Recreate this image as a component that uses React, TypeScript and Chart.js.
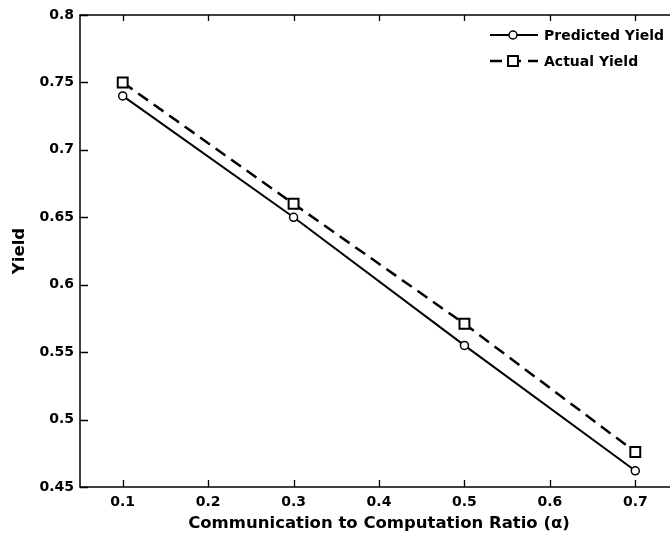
import { useEffect, useRef } from 'react';
import { Chart, registerables } from 'chart.js';

Chart.register(...registerables);

const ALPHA = [0.1, 0.3, 0.5, 0.7];
const PREDICTED = [0.74, 0.65, 0.555, 0.462];
const ACTUAL = [0.75, 0.66, 0.571, 0.476];
const X_TICKS = [0.1, 0.2, 0.3, 0.4, 0.5, 0.6, 0.7];
const Y_TICKS = [0.45, 0.5, 0.55, 0.6, 0.65, 0.7, 0.75, 0.8];
const SERIES = ['Predicted Yield', 'Actual Yield'];
const X_TITLE = 'Communication to Computation Ratio (\u03b1)';
const Y_TITLE = 'Yield';

const FONT = 'DejaVu Sans';

const framePlugin = {
  id: 'matlabFrame',
  afterDatasetsDraw(chart: any) {
    const { ctx, chartArea: a, scales } = chart;
    const xs = scales.x;
    const ys = scales.y;
    ctx.save();
    ctx.strokeStyle = '#000';
    ctx.lineWidth = 1.5;
    ctx.setLineDash([]);
    ctx.beginPath();
    ctx.moveTo(a.right, a.top);
    ctx.lineTo(a.left, a.top);
    ctx.lineTo(a.left, a.bottom);
    ctx.lineTo(a.right, a.bottom);
    ctx.stroke();
    ctx.lineWidth = 1.3;
    ctx.beginPath();
    xs.ticks.forEach((t: any) => {
      const px = Math.round(xs.getPixelForValue(t.value)) + 0.5;
      ctx.moveTo(px, a.bottom);
      ctx.lineTo(px, a.bottom - 7);
      ctx.moveTo(px, a.top);
      ctx.lineTo(px, a.top + 6);
    });
    ys.ticks.forEach((t: any) => {
      const py = Math.round(ys.getPixelForValue(t.value)) + 0.5;
      ctx.moveTo(a.left, py);
      ctx.lineTo(a.left + 8, py);
    });
    ctx.stroke();

    // legend
    const x0 = a.right - 188;
    chart.data.datasets.forEach((ds: any, i: number) => {
      const yRow = a.top + 20 + i * 26;
      ctx.strokeStyle = '#000';
      ctx.lineWidth = ds.borderWidth;
      ctx.setLineDash(ds.borderDash || []);
      ctx.beginPath();
      ctx.moveTo(x0, yRow);
      ctx.lineTo(x0 + 48, yRow);
      ctx.stroke();
      ctx.setLineDash([]);
      ctx.lineWidth = ds.pointBorderWidth;
      ctx.fillStyle = '#fff';
      const mx = x0 + 23;
      if (ds.pointStyle === 'rect') {
        const s = ds.pointRadius * Math.SQRT1_2;
        ctx.beginPath();
        ctx.rect(mx - s, yRow - s, 2 * s, 2 * s);
        ctx.fill();
        ctx.stroke();
      } else {
        ctx.beginPath();
        ctx.arc(mx, yRow, ds.pointRadius, 0, Math.PI * 2);
        ctx.fill();
        ctx.stroke();
      }
      ctx.fillStyle = '#000';
      ctx.font = `bold 14px "${FONT}"`;
      ctx.textBaseline = 'middle';
      ctx.textAlign = 'left';
      ctx.fillText(ds.label, x0 + 54, yRow + 1);
    });
    ctx.restore();
  },
};

export default function App() {
  const ref = useRef<HTMLCanvasElement>(null);
  useEffect(() => {
    if (!ref.current) return;
    const tickFont = { family: FONT, size: 14, weight: 'bold' as const };
    const titleFont = { family: FONT, size: 16.5, weight: 'bold' as const, lineHeight: 1.2 };
    const chart = new Chart(ref.current, {
      type: 'line',
      data: {
        datasets: [
          {
            label: SERIES[0],
            data: ALPHA.map((x, i) => ({ x, y: PREDICTED[i] })),
            borderColor: '#000',
            borderWidth: 2,
            pointStyle: 'circle',
            pointRadius: 4,
            pointBorderWidth: 1.5,
            pointBackgroundColor: '#fff',
            pointBorderColor: '#000',
            fill: false,
            tension: 0,
          },
          {
            label: SERIES[1],
            data: ALPHA.map((x, i) => ({ x, y: ACTUAL[i] })),
            borderColor: '#000',
            borderWidth: 2.5,
            borderDash: [12, 7],
            pointStyle: 'rect',
            pointRadius: 7,
            pointBorderWidth: 2,
            pointBackgroundColor: '#fff',
            pointBorderColor: '#000',
            fill: false,
            tension: 0,
          },
        ] as any,
      },
      options: {
        animation: false,
        responsive: false,
        layout: { padding: { top: 15, right: 22, left: 0, bottom: 0 } },
        plugins: { legend: { display: false }, title: { display: false }, tooltip: { enabled: false } },
        scales: {
          x: {
            type: 'linear',
            min: 0.05,
            max: 0.75,
            afterBuildTicks: (s: any) => {
              s.ticks = X_TICKS.map((v) => ({ value: v }));
            },
            afterFit: (s: any) => {
              s.height = 55;
            },
            grid: { display: false, drawTicks: false, tickLength: 0 },
            border: { display: false },
            ticks: {
              color: '#000',
              font: tickFont,
              padding: 7,
              maxRotation: 0,
              callback: (v: any) => String(v),
            },
            title: {
              display: true,
              text: X_TITLE,
              color: '#000',
              font: titleFont,
              padding: { top: 0, bottom: 8 },
            },
          },
          y: {
            type: 'linear',
            min: 0.45,
            max: 0.8,
            afterBuildTicks: (s: any) => {
              s.ticks = Y_TICKS.map((v) => ({ value: v }));
            },
            afterFit: (s: any) => {
              s.width = 80;
            },
            grid: { display: false, drawTicks: false, tickLength: 0 },
            border: { display: false },
            ticks: {
              color: '#000',
              font: tickFont,
              padding: 6,
              callback: (v: any) => String(v),
            },
            title: {
              display: true,
              text: Y_TITLE,
              color: '#000',
              font: titleFont,
              padding: { top: 10, bottom: 0 },
            },
          },
        },
      },
      plugins: [framePlugin],
    });
    return () => chart.destroy();
  }, []);

  return (
    <div
      style={{
        position: 'fixed',
        left: 0,
        top: 0,
        width: 670,
        height: 542,
        overflow: 'hidden',
        background: '#fff',
      }}
    >
      <canvas ref={ref} width={700} height={542} style={{ display: 'block' }} />
    </div>
  );
}
